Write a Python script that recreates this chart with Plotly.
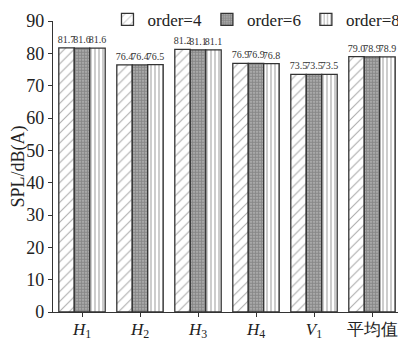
import plotly.graph_objects as go

categories = ["<i>H</i><sub>1</sub>", "<i>H</i><sub>2</sub>", "<i>H</i><sub>3</sub>",
              "<i>H</i><sub>4</sub>", "<i>V</i><sub>1</sub>", "平均值"]
order4 = [81.7, 76.4, 81.2, 76.9, 73.5, 79.0]
order6 = [81.6, 76.4, 81.1, 76.9, 73.5, 78.9]
order8 = [81.6, 76.5, 81.1, 76.8, 73.5, 78.9]
series_names = ["order=4", "order=6", "order=8"]
y_ticks = [0, 10, 20, 30, 40, 50, 60, 70, 80, 90]

FONT = "Liberation Serif, Times New Roman, serif"
patterns = [
    dict(shape="/", size=7, solidity=0.15, fgcolor="#555555", bgcolor="white"),
    dict(shape=".", size=3, solidity=0.7, fgcolor="#555555", bgcolor="#bbbbbb"),
    dict(shape="|", size=4, solidity=0.3, fgcolor="#555555", bgcolor="white"),
]

fig = go.Figure()
for name, vals, pat in zip(series_names, [order4, order6, order8], patterns):
    fig.add_trace(go.Bar(
        x=categories, y=vals, name=name,
        marker=dict(color="white", pattern=pat, line=dict(color="#333333", width=1.3)),
        text=[f"{v:.1f}" for v in vals], textposition="outside", textangle=0,
        constraintext="none", cliponaxis=False,
        textfont=dict(family=FONT, size=10, color="#333333"),
    ))

fig.update_layout(
    width=406, height=340,
    margin=dict(l=45, r=13, t=13, b=36, autoexpand=False),
    paper_bgcolor="white", plot_bgcolor="white",
    barmode="group", bargap=0.2, bargroupgap=0,
    font=dict(family=FONT, size=18, color="#222222"),
    showlegend=True,
    legend=dict(orientation="h", xref="container", yref="container",
                x=0.245, xanchor="left", y=0.965, yanchor="middle",
                font=dict(family=FONT, size=17), bgcolor="rgba(0,0,0,0)",
                itemwidth=30, tracegroupgap=0),
    xaxis=dict(showline=True, linecolor="#333333", linewidth=1.3, ticks="outside",
               ticklen=4, tickcolor="#333333", tickfont=dict(family=FONT, size=17),
               showgrid=False, automargin=False, ticklabelstandoff=-3),
    yaxis=dict(range=[0, 90], tickvals=y_ticks, showline=True, linecolor="#333333",
               linewidth=1.3, ticks="outside", ticklen=4, tickcolor="#333333",
               tickfont=dict(family=FONT, size=18), showgrid=False, zeroline=False,
               automargin=False,
               title=dict(text="SPL/dB(A)", font=dict(family=FONT, size=18), standoff=5)),
)

fig.write_html("out.html")
